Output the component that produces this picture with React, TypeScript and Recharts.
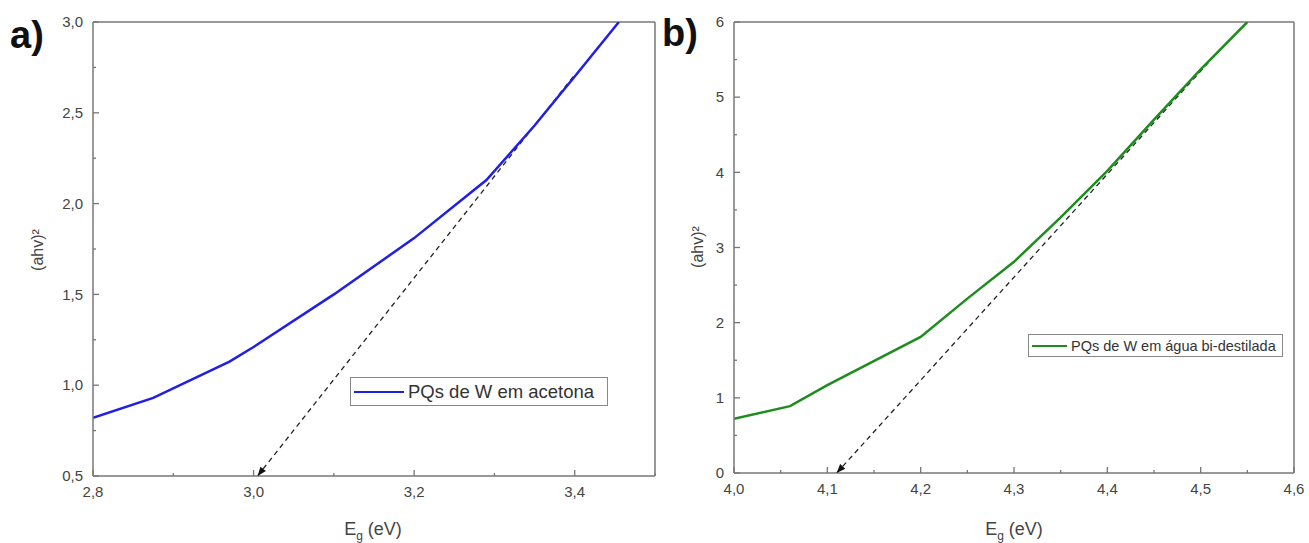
import React from "react";
import {
  Line,
  LineChart,
  ReferenceLine,
  XAxis,
  YAxis,
} from "recharts";

// panel a) — acetone
const acetoneX = [2.8, 2.875, 2.97, 3.0, 3.1, 3.2, 3.29, 3.35, 3.4, 3.455];
const acetoneY = [0.82, 0.93, 1.13, 1.21, 1.5, 1.81, 2.13, 2.43, 2.7, 3.0];
const acetoneFitX = [3.005, 3.4];
const acetoneFitY = [0.5, 2.71];
const aXMajor = [2.8, 3.0, 3.2, 3.4];
const aXMinor = [2.9, 3.1, 3.3, 3.5];
const aYMajor = [0.5, 1.0, 1.5, 2.0, 2.5, 3.0];
const aYMinor = [0.75, 1.25, 1.75, 2.25, 2.75];

// panel b) — bi-distilled water
const waterX = [4.0, 4.06, 4.1, 4.2, 4.25, 4.3, 4.35, 4.4, 4.45, 4.5, 4.55];
const waterY = [0.72, 0.89, 1.17, 1.81, 2.32, 2.81, 3.4, 4.02, 4.7, 5.37, 6.0];
const waterFitX = [4.11, 4.525];
const waterFitY = [0, 5.69];
const bXMajor = [4.0, 4.1, 4.2, 4.3, 4.4, 4.5, 4.6];
const bXMinor = [4.05, 4.15, 4.25, 4.35, 4.45, 4.55];
const bYMajor = [0, 1, 2, 3, 4, 5, 6];
const bYMinor = [0.5, 1.5, 2.5, 3.5, 4.5, 5.5];

const AXIS = "#777";
const TEXT = "#444";
const FONT = "'Liberation Sans', Arial, sans-serif";
const TICK_MARGIN = 10;

const zip = (xs: number[], ys: number[]) => xs.map((x, i) => ({ x, y: ys[i] }));
const isIn = (v: number, arr: number[]) => arr.some((a) => Math.abs(a - v) < 1e-6);
const comma = (v: number) => v.toFixed(1).replace(".", ",");

function YTick(props: any) {
  const { x, y, payload, major, fmt } = props;
  const isMajor = isIn(payload.value, major);
  const ax = x + TICK_MARGIN;
  return (
    <g>
      <line x1={ax} x2={ax + (isMajor ? 6 : 3)} y1={y} y2={y} stroke={AXIS} strokeWidth={1.3} />
      {isMajor && (
        <text x={x} y={y} dy="0.35em" textAnchor="end" fill={TEXT} fontSize={15} fontFamily={FONT}>
          {fmt(payload.value)}
        </text>
      )}
    </g>
  );
}

function XTick(props: any) {
  const { x, y, payload, major, fmt } = props;
  const isMajor = isIn(payload.value, major);
  const ay = y - TICK_MARGIN;
  return (
    <g>
      <line x1={x} x2={x} y1={ay} y2={ay - (isMajor ? 6 : 3)} stroke={AXIS} strokeWidth={1.3} />
      {isMajor && (
        <text x={x} y={y} dy="0.71em" textAnchor="middle" fill={TEXT} fontSize={15} fontFamily={FONT}>
          {fmt(payload.value)}
        </text>
      )}
    </g>
  );
}

function Arrow(props: any) {
  const { cx, cy, index, points, fallback } = props;
  if (index !== 0 || cx == null) return <g key={`d-${index}`} />;
  let ang = fallback;
  if (points && points[1]) {
    ang = Math.atan2(cy - points[1].y, cx - points[1].x);
  }
  const len = 9;
  const w = 3.5;
  const bx = cx - len * Math.cos(ang);
  const by = cy - len * Math.sin(ang);
  const px = -Math.sin(ang) * w;
  const py = Math.cos(ang) * w;
  return (
    <polygon
      key={`d-${index}`}
      points={`${cx},${cy} ${bx + px},${by + py} ${bx - px},${by - py}`}
      fill="#111"
    />
  );
}

function LegendBox({ color, label, fontSize, lineW, left, top, width, height }: { color: string; label: string; fontSize: number; lineW: number; left: number; top: number; width: number; height: number }) {
  return (
    <div
      style={{
        position: "absolute",
        left,
        top,
        width,
        height,
        boxSizing: "border-box",
        display: "flex",
        alignItems: "center",
        border: "1px solid #888",
        background: "#fff",
        paddingLeft: 3,
        fontFamily: FONT,
        fontSize,
        color: "#333",
        whiteSpace: "nowrap",
      }}
    >
      <span style={{ display: "inline-block", width: lineW, height: 0, borderTop: `2.5px solid ${color}`, marginRight: 4 }} />
      {label}
    </div>
  );
}

function Panel(props: {
  width: number;
  margin: { top: number; right: number; bottom: number; left: number };
  curve: { x: number; y: number }[];
  fit: { x: number; y: number }[];
  color: string;
  xDomain: [number, number];
  yDomain: [number, number];
  xMajor: number[];
  xMinor: number[];
  yMajor: number[];
  yMinor: number[];
  yFmt: (v: number) => string;
  arrowAngle: number;
}) {
  const xTicks = [...props.xMajor, ...props.xMinor].sort((a, b) => a - b);
  const yTicks = [...props.yMajor, ...props.yMinor].sort((a, b) => a - b);
  return (
    <LineChart width={props.width} height={543} margin={props.margin}>
      <XAxis
        type="number"
        dataKey="x"
        domain={props.xDomain}
        ticks={xTicks}
        interval={0}
        tickSize={0}
        tickMargin={TICK_MARGIN}
        axisLine={{ stroke: AXIS, strokeWidth: 1.5 }}
        tick={<XTick major={props.xMajor} fmt={comma} />}
        allowDataOverflow
      />
      <YAxis
        type="number"
        dataKey="y"
        domain={props.yDomain}
        ticks={yTicks}
        interval={0}
        tickSize={0}
        tickMargin={TICK_MARGIN}
        axisLine={{ stroke: AXIS, strokeWidth: 1.5 }}
        tick={<YTick major={props.yMajor} fmt={props.yFmt} />}
        allowDataOverflow
      />
      <ReferenceLine y={props.yDomain[1]} stroke={AXIS} strokeWidth={1.5} />
      <ReferenceLine x={props.xDomain[1]} stroke={AXIS} strokeWidth={1.5} />
      <Line
        data={props.fit}
        dataKey="y"
        stroke="#222"
        strokeWidth={1.3}
        strokeDasharray="5 4"
        dot={<Arrow fallback={props.arrowAngle} />}
        activeDot={false}
        isAnimationActive={false}
      />
      <Line
        data={props.curve}
        dataKey="y"
        type="linear"
        stroke={props.color}
        strokeWidth={2.5}
        dot={false}
        activeDot={false}
        isAnimationActive={false}
      />
    </LineChart>
  );
}

const abs = (left: number, top: number): React.CSSProperties => ({ position: "absolute", left, top });

export default function App() {
  return (
    <div style={{ position: "absolute", left: 0, top: 0, width: 1309, height: 543, background: "#fff", fontFamily: FONT }}>
      <div style={abs(0, 0)}>
        <Panel
          width={660}
          margin={{ top: 22, right: 5, bottom: 37, left: 33 }}
          curve={zip(acetoneX, acetoneY)}
          fit={zip(acetoneFitX, acetoneFitY)}
          color="#1f1fe6"
          xDomain={[2.8, 3.5]}
          yDomain={[0.5, 3.0]}
          xMajor={aXMajor}
          xMinor={aXMinor}
          yMajor={aYMajor}
          yMinor={aYMinor}
          yFmt={comma}
          arrowAngle={Math.atan2(399, -317)}
        />
      </div>
      <div style={abs(660, 0)}>
        <Panel
          width={649}
          margin={{ top: 22, right: 15, bottom: 40, left: 14 }}
          curve={zip(waterX, waterY)}
          fit={zip(waterFitX, waterFitY)}
          color="#1e8c1e"
          xDomain={[4.0, 4.6]}
          yDomain={[0, 6]}
          xMajor={bXMajor}
          xMinor={bXMinor}
          yMajor={bYMajor}
          yMinor={bYMinor}
          yFmt={(v) => String(v)}
          arrowAngle={Math.atan2(428, -392)}
        />
      </div>

      <LegendBox color="#1f1fe6" label="PQs de W em acetona" fontSize={18.5} lineW={50} left={350} top={377} width={258} height={29} />
      <LegendBox color="#1e8c1e" label="PQs de W em água bi-destilada" fontSize={14.5} lineW={35} left={1028} top={334} width={255} height={23} />

      <div style={{ ...abs(10, 14), fontSize: 38, fontWeight: "bold", color: "#111" }}>a)</div>
      <div style={{ ...abs(662, 12), fontSize: 38, fontWeight: "bold", color: "#111" }}>b)</div>

      <div style={{ ...abs(38, 250), transform: "translate(-50%, -50%) rotate(-90deg)", fontSize: 16, color: TEXT, whiteSpace: "nowrap" }}>
        (ahv)²
      </div>
      <div style={{ ...abs(698, 247), transform: "translate(-50%, -50%) rotate(-90deg)", fontSize: 16, color: TEXT, whiteSpace: "nowrap" }}>
        (ahv)²
      </div>

      <div style={{ ...abs(373, 531), transform: "translate(-50%, -50%)", fontSize: 18, color: TEXT, whiteSpace: "nowrap" }}>
        E<sub style={{ fontSize: 12 }}>g</sub> (eV)
      </div>
      <div style={{ ...abs(1014, 531), transform: "translate(-50%, -50%)", fontSize: 18, color: TEXT, whiteSpace: "nowrap" }}>
        E<sub style={{ fontSize: 12 }}>g</sub> (eV)
      </div>
    </div>
  );
}
